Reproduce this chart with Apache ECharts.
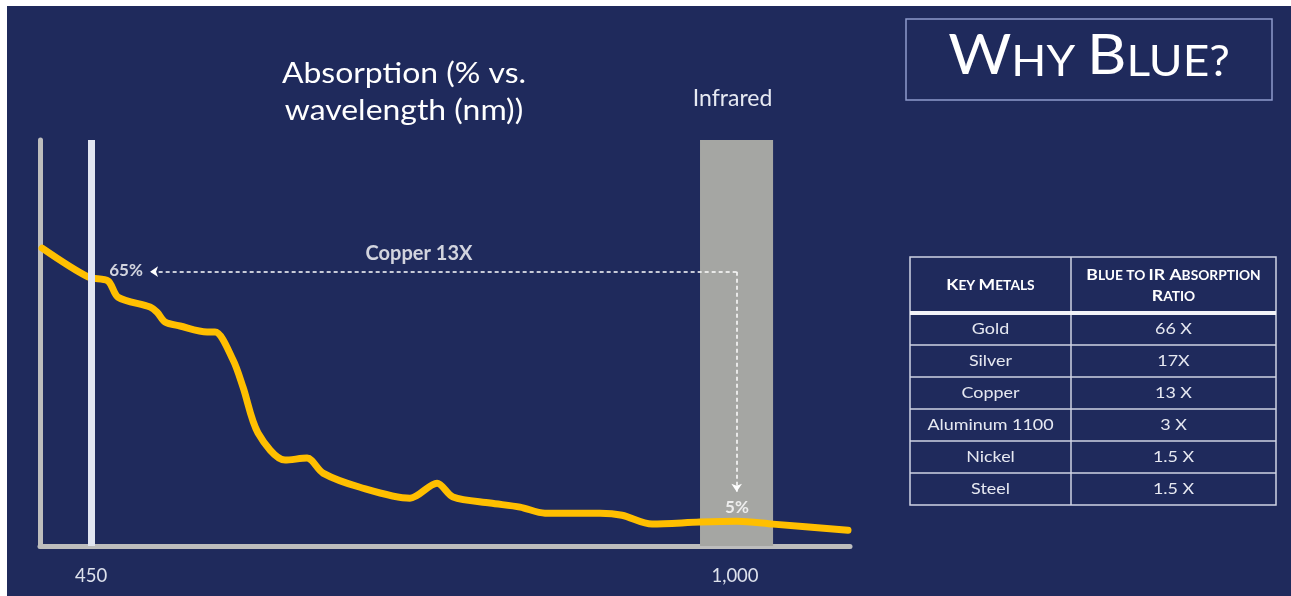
<!DOCTYPE html>
<html>
<head>
<meta charset="utf-8">
<script src="https://cdn.jsdelivr.net/npm/echarts@6/dist/echarts.min.js"></script>
<style>
  html, body { margin: 0; padding: 0; background: #ffffff; }
  #bg { position: absolute; left: 7px; top: 6px; width: 1284px; height: 590px; background: #1f2a5c; }
  #chart { position: absolute; left: 0; top: 0; width: 1291px; height: 596px; }
</style>
</head>
<body>
<div id="bg"></div>
<div id="chart"></div>
<script>
// ---- data ----
const wavelength = [408.2, 447.4, 464.5, 473.1, 500.4, 506.4, 513.2, 526.0, 549.1, 555.9, 571.3, 579.8, 592.6, 615.7, 634.5, 648.1, 679.7, 722.4, 745.5, 759.2, 790.8, 816.4, 837.7, 884.7, 903.5, 929.1, 970.1, 1001.7, 1032.5, 1096.5];
const absorption = [72.3, 65.2, 64.2, 60.2, 57.8, 56.5, 54.1, 53.1, 51.6, 51.6, 44.7, 38.0, 26.7, 20.0, 20.5, 16.8, 13.3, 10.6, 14.3, 10.9, 9.4, 8.4, 6.9, 6.9, 6.4, 4.2, 4.7, 4.9, 4.2, 2.7];
const xTickValues = [450, 1000];
const blueLine = 450;
const infraredBand = [970.1, 1032.5];
const infraredLabel = 'Infrared';
const calloutNames = ['65%', 'Copper 13X', '5%'];
const calloutX = [479.9, 730.1, 1001.7];
const calloutY = [66.7, 70.9, 8.4];
const arrowCorner = [1001.4, 66.5];
const arrowLeftEnd = [500.4, 66.5];
const arrowDownEnd = [1001.4, 12.2];
const chartTitleLines = ['Absorption (% vs.', 'wavelength (nm))'];
const metals = ['Gold', 'Silver', 'Copper', 'Aluminum 1100', 'Nickel', 'Steel'];
const ratios = ['66 X', '17X', '13 X', '3 X', '1.5 X', '1.5 X'];

// ---- layout ----
const FONT = 'Lato, "Open Sans", sans-serif';
const tX0 = 910, tX1 = 1276, tCol = 1071, tTop = 257, tHead = 313, tBottom = 505;
const rowH = (tBottom - tHead) / metals.length;
const lineCol = '#cfd3e3';

const graphics = [];
// Why Blue box
graphics.push({ type: 'rect', shape: { x: 906, y: 19, width: 366, height: 81 }, style: { fill: 'none', stroke: '#8f9bcb', lineWidth: 1.5 } });
graphics.push({
  type: 'text', x: 1089, y: 58, scaleX: 1.07,
  style: {
    text: '{b|W}{s|HY }{b|B}{s|LUE?}', align: 'center', verticalAlign: 'middle', fill: '#ffffff',
    rich: {
      b: { fontSize: 57, fontFamily: FONT, fill: '#ffffff', verticalAlign: 'bottom', lineHeight: 52 },
      s: { fontSize: 43, fontFamily: FONT, fill: '#ffffff', verticalAlign: 'bottom', lineHeight: 43 }
    }
  }
});
// chart title
chartTitleLines.forEach((t, i) => {
  graphics.push({ type: 'text', x: 404, y: 74 + i * 37, scaleX: 1.12, style: { text: t, align: 'center', verticalAlign: 'middle', fill: '#ffffff', fontSize: 28.5, fontFamily: FONT } });
});
// table
graphics.push({ type: 'rect', shape: { x: tX0, y: tTop, width: tX1 - tX0, height: tBottom - tTop }, style: { fill: 'none', stroke: lineCol, lineWidth: 1.5 } });
graphics.push({ type: 'line', shape: { x1: tCol, y1: tTop, x2: tCol, y2: tBottom }, style: { stroke: lineCol, lineWidth: 1.5 } });
graphics.push({ type: 'line', shape: { x1: tX0, y1: tHead, x2: tX1, y2: tHead }, style: { stroke: '#f2f3f8', lineWidth: 4 } });
for (let i = 1; i < metals.length; i++) {
  const y = tHead + i * rowH;
  graphics.push({ type: 'line', shape: { x1: tX0, y1: y, x2: tX1, y2: y }, style: { stroke: lineCol, lineWidth: 1.5 } });
}
const scRich = {
  b: { fontSize: 16, fontWeight: 'bold', fontFamily: FONT, fill: '#ffffff', verticalAlign: 'bottom', lineHeight: 15 },
  s: { fontSize: 12.5, fontWeight: 'bold', fontFamily: FONT, fill: '#ffffff', verticalAlign: 'bottom', lineHeight: 12.5 }
};
graphics.push({ type: 'text', x: (tX0 + tCol) / 2, y: 285, scaleX: 1.1, style: { text: '{b|K}{s|EY }{b|M}{s|ETALS}', align: 'center', verticalAlign: 'middle', rich: scRich } });
graphics.push({ type: 'text', x: (tCol + tX1) / 2, y: 275, scaleX: 1.1, style: { text: '{b|B}{s|LUE TO }{b|IR A}{s|BSORPTION}', align: 'center', verticalAlign: 'middle', rich: scRich } });
graphics.push({ type: 'text', x: (tCol + tX1) / 2, y: 296, scaleX: 1.1, style: { text: '{b|R}{s|ATIO}', align: 'center', verticalAlign: 'middle', rich: scRich } });
metals.forEach((m, i) => {
  const y = tHead + (i + 0.5) * rowH;
  graphics.push({ type: 'text', x: (tX0 + tCol) / 2, y: y, scaleX: 1.12, style: { text: m, align: 'center', verticalAlign: 'middle', fill: '#e6e8f1', fontSize: 16, fontFamily: FONT } });
  graphics.push({ type: 'text', x: (tCol + tX1) / 2, y: y, scaleX: 1.12, style: { text: ratios[i], align: 'center', verticalAlign: 'middle', fill: '#e6e8f1', fontSize: 16, fontFamily: FONT } });
});

const chart = echarts.init(document.getElementById('chart'), null, { renderer: 'canvas' });
const calloutFont = [17, 20, 17];
chart.setOption({
  animation: false,
  backgroundColor: 'transparent',
  grid: { left: 40, right: 441, top: 140, bottom: 50, containLabel: false },
  xAxis: {
    type: 'value', min: 406.4, max: 1098.2,
    axisLine: { show: true, onZero: false, lineStyle: { color: '#bdbdbd', width: 5 } },
    axisTick: { show: false },
    splitLine: { show: false },
    axisLabel: {
      customValues: xTickValues, margin: 21, color: '#dde1ec', fontSize: 18.5, fontFamily: FONT,
      formatter: v => Number(v).toLocaleString('en-US')
    }
  },
  yAxis: {
    type: 'value', min: -1.2, max: 99,
    axisLine: { show: true, onZero: false, lineStyle: { color: '#bdbdbd', width: 5 } },
    axisTick: { show: false }, axisLabel: { show: false }, splitLine: { show: false }
  },
  series: [
    {
      type: 'line', data: [], z: 1, silent: true,
      markArea: {
        silent: true,
        itemStyle: { color: '#a5a6a3' },
        label: { show: true, position: 'top', distance: 30, offset: [-4, 0], color: '#e6e9f2', fontSize: 23, fontFamily: FONT },
        data: [[{ name: infraredLabel, xAxis: infraredBand[0] }, { xAxis: infraredBand[1] }]]
      },
      markLine: {
        silent: true, symbol: 'none', label: { show: false },
        lineStyle: { color: '#e1e5f1', width: 7, type: 'solid' },
        data: [{ xAxis: blueLine }]
      }
    },
    {
      type: 'line', z: 3, silent: true,
      data: wavelength.map((w, i) => [w, absorption[i]]),
      smooth: 0.3, showSymbol: false,
      lineStyle: { color: '#ffbf00', width: 7, cap: 'round', join: 'round' }
    },
    {
      type: 'scatter', z: 4, silent: true, symbolSize: 0,
      data: calloutNames.map((n, i) => ({
        name: n, value: [calloutX[i], calloutY[i]],
        label: { fontSize: calloutFont[i] }
      })),
      label: {
        show: true, position: [0, 0], align: 'center', verticalAlign: 'middle',
        formatter: p => p.name, color: '#ffffff', fontWeight: 'bold', fontFamily: FONT
      },
      markLine: {
        silent: true, symbol: ['none', 'arrow'], symbolSize: 8,
        label: { show: false },
        lineStyle: { color: '#ffffff', width: 1.5, type: [4, 3] },
        data: [
          [{ coord: arrowCorner }, { coord: arrowLeftEnd }],
          [{ coord: arrowCorner }, { coord: arrowDownEnd }]
        ]
      }
    }
  ],
  graphic: { elements: graphics }
});
</script>
</body>
</html>
